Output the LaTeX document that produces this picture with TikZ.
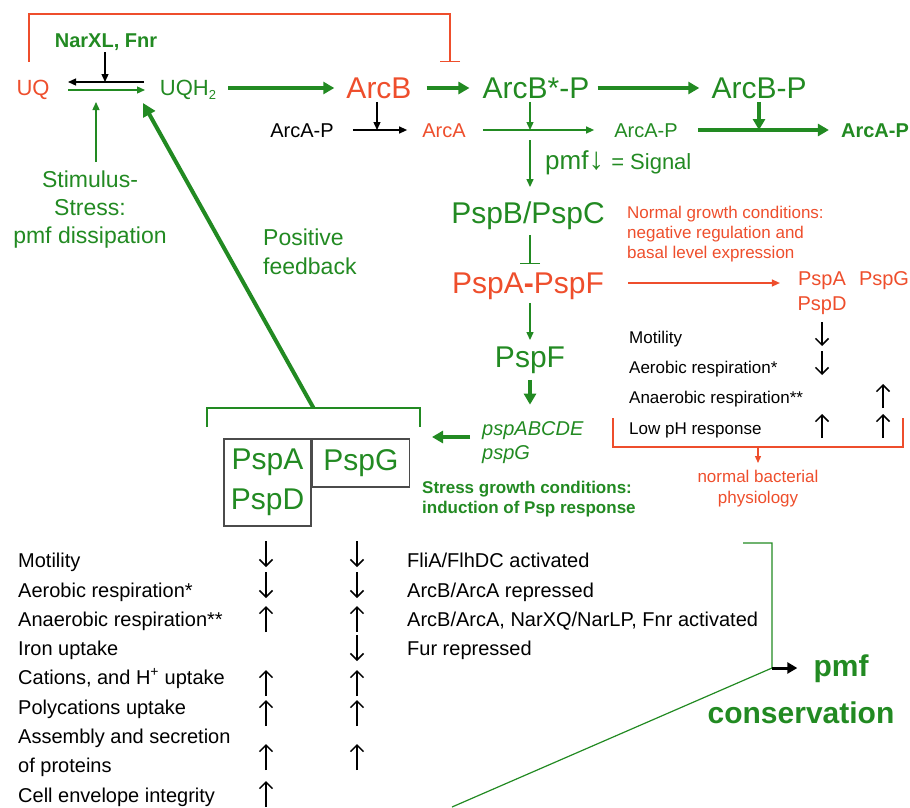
\documentclass[tikz,border=0pt]{standalone}
\usepackage{fontspec}
\setmainfont{Liberation Sans}
\usetikzlibrary{arrows.meta,calc,positioning}

\definecolor{pspgreen}{RGB}{34,138,34}
\definecolor{pspred}{RGB}{238,78,44}
\definecolor{boxgray}{RGB}{75,75,75}

\newcommand{\fsz}[2]{\fontsize{#1}{#2}\selectfont}

\tikzset{
  lbl/.style={inner sep=0pt, text depth=0pt},
  lblbig/.style={lbl, text height=21.5pt, font=\fsz{30}{36}},
  lblmid/.style={lbl, text height=15.8pt, font=\fsz{22}{26}},
  lblsmall/.style={lbl, text height=14.3pt, font=\fsz{20}{24}},
  note/.style={inner sep=0pt, align=left, anchor=north west, font=\fsz{17}{20}},
  trait/.style={inner sep=0pt, anchor=base west, font=\fsz{20}{24}},
  traitr/.style={inner sep=0pt, anchor=base west, font=\fsz{17}{20}},
  trend/.style={line width=1.5pt, -{Straight Barb[length=6.5pt,width=13pt]}},
  thinarr/.style={line width=1.3pt, -{Triangle[length=8pt,width=7pt]}},
  fatarr/.style={line width=3.5pt, -{Triangle[length=11pt,width=12pt]}},
  inhib/.style={line width=1.3pt, -{Bar[width=20pt]}},
  brack/.style={line width=1.3pt},
  pbox/.style={draw=boxgray, line width=1.5pt, inner sep=0pt, align=center, text=pspgreen, font=\fsz{30}{40}},
}

\begin{document}
\begin{tikzpicture}[x=1pt, y=-1pt]
\useasboundingbox (0,0) rectangle (910,807);

% quinone pool
\node[lblmid, text=pspred] (uq) at (33,88) {UQ};
\node[lblmid, text=pspgreen] (uqh) at (188,88) {UQH\raisebox{-4pt}{\fsz{13}{13}2}};
\node[lbl, text height=14.3pt, font=\bfseries\fsz{20}{24}, text=pspgreen] (narxl) at (106,40) {NarXL, Fnr};
\coordinate (eqL) at (68,82);
\coordinate (eqR) at (144,82);
\draw[thinarr] (eqR) -- (eqL);
\draw[thinarr, pspgreen] ($(eqL)+(0,8)$) -- ($(eqR)+(1,8)$);
\draw[thinarr, shorten <=5pt] ([xshift=-1pt]narxl.south) -- ([xshift=-1pt]narxl.south |- eqL);
\node[inner sep=0pt, align=center, anchor=north, font=\fsz{23}{28}, text=pspgreen] (stim) at (90,171) {Stimulus-\\Stress:\\pmf dissipation};
\coordinate (stimtip) at (96,102);
\draw[thinarr, pspgreen, shorten <=9pt] (stimtip |- stim.north) -- (stimtip);

% Arc two-component system
\node[lblbig, text=pspred] (arcb) at (379,88) {ArcB};
\node[lblbig, text=pspgreen] (arcbs) at (536,88) {ArcB*-P};
\node[lblbig, text=pspgreen] (arcbp) at (759,88) {ArcB-P};
\draw[fatarr, pspgreen, shorten <=12pt, shorten >=12pt] (uqh) -- (arcb);
\draw[fatarr, pspgreen, shorten <=15pt, shorten >=13pt] (arcb) -- (arcbs);
\draw[fatarr, pspgreen, shorten <=8pt, shorten >=12pt] (arcbs) -- (arcbp);
\coordinate (cut) at (450,62);
\draw[inhib, pspred] ($(uq.north)+(-4,-18)$) |- ($(cut)+(0,-48)$) -- (cut);

\node[lblsmall] (arcak) at (302,130) {ArcA-P};
\node[lblsmall, text=pspred] (arca) at (444,130) {ArcA};
\node[lblsmall, text=pspgreen] (arcag) at (646,130) {ArcA-P};
\node[lbl, text height=14.3pt, font=\bfseries\fsz{20}{24}, text=pspgreen] (arcab) at (875,130) {ArcA-P};
\draw[thinarr, shorten <=19pt, shorten >=15pt] (arcak) -- (arca);
\draw[thinarr, shorten <=3pt] ([xshift=-2pt]arcb.south) -- ([xshift=-2pt]arcb.south |- arca.west);
\draw[thinarr, pspgreen, shorten <=17pt, shorten >=20pt] (arca) -- (arcag);
\coordinate (sig) at (530,130);
\draw[thinarr, pspgreen, shorten <=3pt] (sig |- arcbs.south) -- (sig);
\draw[fatarr, pspgreen, shorten <=20pt, shorten >=12pt] (arcag) -- (arcab);
\draw[fatarr, pspgreen, shorten <=3pt] (arcbp.south) -- (arcbp.south |- arcab.west);

\node[lbl, text height=19pt, anchor=west, text=pspgreen] (pmf) at (545,160) {\fsz{26}{30}pmf{\fsz{31}{30}↓} \fsz{22}{26}= Signal};

% Psp cascade
\node[lblbig, text=pspgreen] (pspbc) at (528,213) {PspB/PspC};
\draw[thinarr, pspgreen, shorten <=10pt, shorten >=15pt] (sig) -- (sig |- pspbc.north);
\node[note, text=pspred] (normal) at (627,206) {Normal growth conditions:\\negative regulation and\\basal level expression};
\node[lblbig, text=pspred] (pspaf) at (528,283) {PspA{\bfseries -}PspF};
\draw[inhib, pspgreen, shorten <=11pt, shorten >=8pt] (pspbc.south -| sig) -- (pspaf.north -| sig);

\node[lblsmall, text=pspred] (rpa) at (822,278) {PspA};
\node[lblsmall, text=pspred] (rpd) at (822,303) {PspD};
\node[lblsmall, text=pspred] (rpg) at (884,278) {PspG};
\draw[thinarr, pspred, shorten <=24pt, shorten >=18pt] (pspaf.east) -- (pspaf.east -| rpa.west);

\node[lblbig, text=pspgreen] (pspf) at (530,357) {PspF};
\draw[thinarr, pspgreen, shorten <=9pt, shorten >=6pt] (pspaf.south -| pspf) -- (pspf);
\node[lblsmall, anchor=west, font=\itshape\fsz{20}{24}, text=pspgreen] (genes) at (482,428) {pspABCDE};
\node[lblsmall, anchor=west, font=\itshape\fsz{20}{24}, text=pspgreen] (geneg) at (482,452) {pspG};
\draw[fatarr, pspgreen, shorten <=12pt, shorten >=16pt] (pspf.south) -- (pspf.south |- genes.north);
\coordinate (stressin) at (432,437);
\draw[fatarr, pspgreen, shorten <=12pt] (genes.west |- stressin) -- (stressin);
\node[note, font=\bfseries\fsz{17}{20}, text=pspgreen] (stress) at (422,481) {Stress growth conditions:\\induction of Psp response};

% effector proteins
\node[pbox, minimum width=87pt, minimum height=87pt] (bad) at (267.5,482.5) {PspA\\PspD};
\node[pbox, minimum width=97pt, minimum height=48pt, anchor=north west] (bg) at (bad.north east) {PspG};
\coordinate (brtop) at (313.5,408);
\draw[brack, pspgreen] (207,427) |- (brtop) -| (420,427);
\coordinate (fbtip) at (143,103);
\draw[line width=4pt, pspgreen, -{Triangle[length=13pt,width=13pt]}] (brtop) -- (fbtip);
\node[inner sep=0pt, align=left, anchor=north west, font=\fsz{23}{29}, text=pspgreen] (posfb) at (263,229) {Positive\\feedback};

% normal physiology
\foreach \txt/\yy [count=\i] in {Motility/343, Aerobic respiration*/373, Anaerobic respiration**/403, Low pH response/434}
  \node[traitr] (nphys\i) at (629,\yy) {\txt};
% up/down marks: x / centre y / direction (+1 down, -1 up)
\foreach \xx/\yy/\dd in {822/334/1, 822/363/1, 883/396/-1, 822/426/-1, 883/426/-1}
  \draw[trend] (\xx,\yy-\dd*12) -- (\xx,\yy+\dd*12);
\coordinate (nbmid) at (758,447);
\draw[brack, pspred] (613,418) |- (nbmid) -| (903,418);
\node[inner sep=0pt, align=center, anchor=north, font=\fsz{17}{21}, text=pspred] (normphys) at (758,470) {normal bacterial\\physiology};
\draw[line width=1.3pt, pspred, -{Triangle[length=7pt,width=6pt]}, shorten >=7pt] (nbmid) -- (normphys);

% stress physiology
\foreach \txt/\yy [count=\i] in {Motility/567, Aerobic respiration*/597, Anaerobic respiration**/626, Iron uptake/655, {Cations, and H\textsuperscript{+} uptake}/684, Polycations uptake/714, Assembly and secretion/743, of proteins/772, Cell envelope integrity/802}
  \node[trait] (sphys\i) at (18,\yy) {\txt};
\foreach \xx/\yy/\dd in {266/554/1, 266/585/1, 266/619/-1, 266/683/-1, 266/713/-1, 266/757/-1, 266/794/-1,
    357/554/1, 357/585/1, 357/619/-1, 357/648/1, 357/683/-1, 357/713/-1, 357/757/-1}
  \draw[trend] (\xx,\yy-\dd*13) -- (\xx,\yy+\dd*13);
\foreach \txt/\yy [count=\i] in {{FliA/FlhDC activated}/567, {ArcB/ArcA repressed}/597, {ArcB/ArcA, NarXQ/NarLP, Fnr activated}/626, {Fur repressed}/655}
  \node[trait] (reg\i) at (407,\yy) {\txt};

% pmf conservation
\node[lbl, text height=21.5pt, font=\bfseries\fsz{30}{36}, text=pspgreen] (pmfc) at (841,666) {pmf};
\node[lbl, text height=21.5pt, font=\bfseries\fsz{30}{36}, text=pspgreen] (cons) at (801,713) {conservation};
\coordinate (listR) at (743,543);
\coordinate (jR) at (772,668);
\coordinate (lowend) at (452,807);
\draw[line width=1.2pt, pspgreen] (listR) -| (jR) -- (lowend);
\draw[line width=3pt, -{Triangle[length=10pt,width=11pt]}, shorten >=16pt] (jR) -- (jR -| pmfc.west);
\end{tikzpicture}
\end{document}
